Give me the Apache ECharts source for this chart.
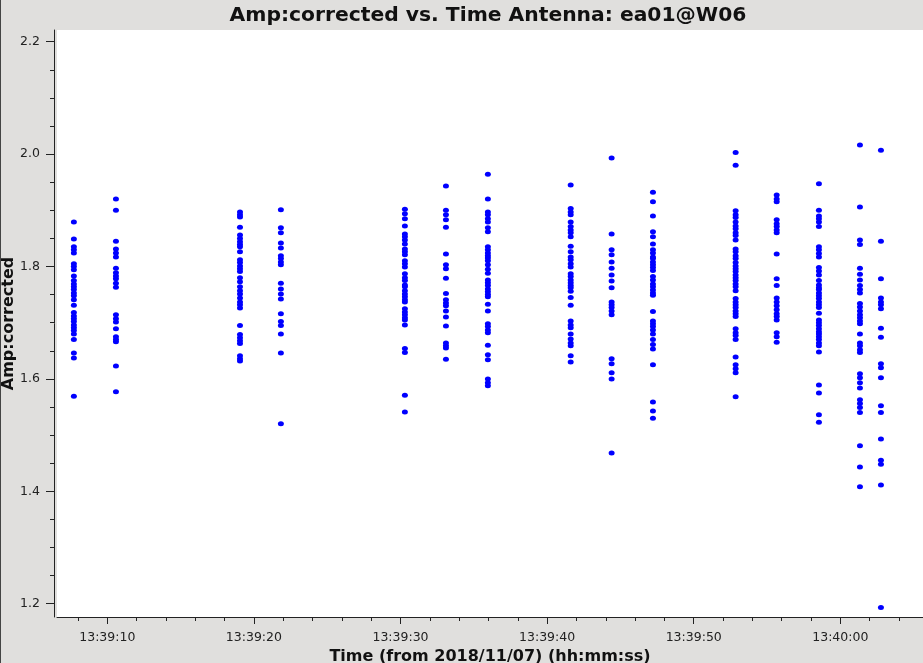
<!DOCTYPE html>
<html>
<head>
<meta charset="utf-8">
<script src="https://cdn.jsdelivr.net/npm/echarts@6/dist/echarts.min.js"></script>
<style>
html,body{margin:0;padding:0;background:#e0dfdd;}
#wrap{position:relative;width:923px;height:663px;}
#chart{width:923px;height:663px;}
#edge{position:absolute;left:0;top:0;width:1px;height:663px;background:#444;}
</style>
</head>
<body>
<div id="wrap"><div id="chart"></div><div id="edge"></div></div>
<script>
// seconds after 13:39:00 for each scan
const scanTimes = [7.72, 10.59, 19.05, 21.84, 30.30, 33.10, 35.96, 41.61, 44.40, 47.22, 52.86, 55.66, 58.54, 61.34, 62.77];

const scanA = [1.879,1.849,1.835,1.830,1.824,1.805,1.800,1.794,1.783,1.775,1.769,1.764,1.759,1.753,1.748,1.741,1.731,1.718,1.712,1.707,1.702,1.696,1.691,1.686,1.680,1.670,1.646,1.637,1.569];
const scanB = [1.920,1.900,1.845,1.831,1.824,1.817,1.797,1.789,1.783,1.778,1.770,1.763,1.714,1.707,1.701,1.689,1.675,1.670,1.666,1.623,1.577];
const scanC = [1.897,1.892,1.888,1.870,1.856,1.850,1.844,1.839,1.835,1.826,1.812,1.807,1.801,1.796,1.791,1.780,1.773,1.764,1.757,1.751,1.744,1.737,1.732,1.726,1.695,1.679,1.673,1.668,1.663,1.641,1.636,1.632];
const scanD = [1.901,1.869,1.860,1.842,1.833,1.819,1.814,1.808,1.803,1.770,1.760,1.751,1.742,1.716,1.702,1.695,1.680,1.646,1.520];
const scanE = [1.902,1.894,1.885,1.872,1.858,1.853,1.847,1.840,1.831,1.826,1.821,1.810,1.805,1.799,1.787,1.780,1.775,1.767,1.764,1.757,1.751,1.746,1.741,1.737,1.725,1.719,1.714,1.709,1.705,1.696,1.654,1.647,1.571,1.541];
const scanF = [1.943,1.900,1.892,1.883,1.870,1.822,1.803,1.796,1.779,1.752,1.741,1.735,1.730,1.721,1.710,1.694,1.664,1.659,1.655,1.635];
const scanG = [1.964,1.920,1.897,1.892,1.885,1.879,1.869,1.862,1.835,1.830,1.824,1.819,1.815,1.810,1.803,1.795,1.788,1.776,1.771,1.766,1.760,1.755,1.750,1.746,1.733,1.721,1.698,1.693,1.687,1.682,1.660,1.643,1.634,1.600,1.593,1.588];
const scanH = [1.945,1.903,1.897,1.892,1.879,1.871,1.865,1.860,1.853,1.836,1.826,1.817,1.812,1.805,1.799,1.787,1.782,1.776,1.771,1.766,1.762,1.756,1.745,1.731,1.703,1.696,1.691,1.680,1.671,1.664,1.659,1.641,1.630];
const scanI = [1.993,1.858,1.830,1.821,1.808,1.797,1.785,1.774,1.762,1.737,1.732,1.727,1.721,1.714,1.636,1.627,1.611,1.600,1.468];
const scanJ = [1.932,1.915,1.890,1.862,1.853,1.840,1.830,1.824,1.817,1.814,1.808,1.803,1.798,1.793,1.782,1.776,1.769,1.764,1.758,1.753,1.749,1.720,1.703,1.698,1.693,1.687,1.680,1.670,1.661,1.653,1.625,1.559,1.543,1.530];
const scanK = [2.003,1.980,1.899,1.892,1.887,1.879,1.872,1.867,1.860,1.855,1.847,1.831,1.826,1.819,1.814,1.807,1.801,1.796,1.791,1.785,1.780,1.775,1.769,1.764,1.757,1.743,1.737,1.732,1.727,1.721,1.716,1.711,1.689,1.682,1.677,1.670,1.639,1.625,1.618,1.611,1.568];
const scanL = [1.927,1.920,1.915,1.883,1.876,1.871,1.865,1.860,1.822,1.778,1.766,1.744,1.737,1.730,1.723,1.716,1.711,1.705,1.682,1.675,1.665];
const scanM = [1.947,1.900,1.890,1.885,1.879,1.871,1.835,1.830,1.823,1.817,1.798,1.792,1.785,1.775,1.767,1.762,1.759,1.753,1.748,1.743,1.737,1.732,1.727,1.717,1.705,1.700,1.695,1.689,1.684,1.680,1.675,1.670,1.664,1.659,1.648,1.589,1.575,1.536,1.523];
const scanN = [2.016,1.906,1.847,1.839,1.797,1.786,1.776,1.766,1.759,1.753,1.734,1.728,1.721,1.714,1.709,1.703,1.698,1.680,1.664,1.659,1.652,1.647,1.609,1.602,1.593,1.584,1.563,1.556,1.549,1.540,1.481,1.443,1.408];
const scanO = [2.007,1.845,1.778,1.744,1.737,1.732,1.725,1.690,1.674,1.627,1.620,1.602,1.552,1.540,1.493,1.455,1.448,1.411,1.193];

const scans = [scanA,scanB,scanC,scanD,scanE,scanF,scanG,scanH,scanI,scanJ,scanK,scanL,scanM,scanN,scanO];

const xLabelValues = [10, 20, 30, 40, 50, 60];
const xMinorValues = [8, 12, 14, 16, 18, 22, 24, 26, 28, 32, 34, 36, 38, 42, 44, 46, 48, 52, 54, 56, 58, 62, 64];
const yLabelValues = [1.2, 1.4, 1.6, 1.8, 2.0, 2.2];
const yMinorValues = [1.25, 1.3, 1.35, 1.45, 1.5, 1.55, 1.65, 1.7, 1.75, 1.85, 1.9, 1.95, 2.05, 2.1, 2.15];

// data ranges of the plotting area
const xMin = 6.569, xMax = 65.64, yMin = 1.1763, yMax = 2.2208;

const points = [];
scans.forEach((arr, i) => arr.forEach(v => points.push([scanTimes[i], v])));

function pad(n){ n = Math.round(n); return (n < 10 ? '0' : '') + n; }
function fmtTime(v){
  return v < 60 ? '13:39:' + pad(v) : '13:40:' + pad(v - 60);
}

const font = 'DejaVu Sans';
const ink = '#222';
const chart = echarts.init(document.getElementById('chart'), null, {renderer: 'canvas'});
chart.setOption({
  animation: false,
  backgroundColor: '#e0dfdd',
  title: {
    text: 'Amp:corrected vs. Time Antenna: ea01@W06',
    left: 483, top: 1, textAlign: 'center',
    textStyle: {fontFamily: font, fontWeight: 'bold', fontSize: 20.3, color: '#111'}
  },
  grid: {left: 57, right: 0, top: 30, bottom: 46, outerBoundsMode: 'none',
         show: true, backgroundColor: '#ffffff', borderWidth: 0},
  xAxis: [{
    type: 'value', min: xMin, max: xMax, position: 'bottom',
    name: 'Time (from 2018/11/07) (hh:mm:ss)', nameLocation: 'middle', nameGap: 29,
    nameTextStyle: {fontFamily: font, fontWeight: 'bold', fontSize: 16, color: '#111'},
    axisLine: {show: true, onZero: false, lineStyle: {color: ink, width: 1}},
    axisTick: {show: true, customValues: xLabelValues, length: 7, lineStyle: {color: ink}},
    axisLabel: {customValues: xLabelValues, formatter: fmtTime, fontFamily: font, fontSize: 12.5, color: ink, margin: 14},
    splitLine: {show: false}
  }, {
    type: 'value', min: xMin, max: xMax, position: 'bottom',
    axisLine: {show: false, onZero: false},
    axisTick: {show: true, customValues: xMinorValues, length: 4, lineStyle: {color: ink}},
    axisLabel: {show: false},
    splitLine: {show: false}
  }],
  yAxis: [{
    type: 'value', min: yMin, max: yMax, position: 'left', offset: 3,
    axisLine: {show: true, onZero: false, lineStyle: {color: ink, width: 1}},
    axisTick: {show: true, customValues: yLabelValues, length: 8, lineStyle: {color: ink}},
    axisLabel: {customValues: yLabelValues, formatter: v => v.toFixed(1), fontFamily: font, fontSize: 12.5, color: ink, margin: 14},
    splitLine: {show: false}
  }, {
    type: 'value', min: yMin, max: yMax, position: 'left', offset: 3,
    axisLine: {show: false, onZero: false},
    axisTick: {show: true, customValues: yMinorValues, length: 4, lineStyle: {color: ink}},
    axisLabel: {show: false},
    splitLine: {show: false}
  }, {
    type: 'value', min: yMin, max: yMax, position: 'left', offset: 3,
    name: 'Amp:corrected', nameLocation: 'middle', nameGap: 37, nameRotate: 90,
    nameTextStyle: {fontFamily: font, fontWeight: 'bold', fontSize: 16, color: '#111'},
    axisLine: {show: false, onZero: false}, axisTick: {show: false}, axisLabel: {show: false}, splitLine: {show: false}
  }],
  series: [{
    type: 'scatter', xAxisIndex: 0, yAxisIndex: 0,
    data: points, symbol: 'circle', symbolSize: [6, 5],
    itemStyle: {color: '#0000ff', opacity: 1},
    emphasis: {disabled: true}
  }]
});
</script>
</body>
</html>
